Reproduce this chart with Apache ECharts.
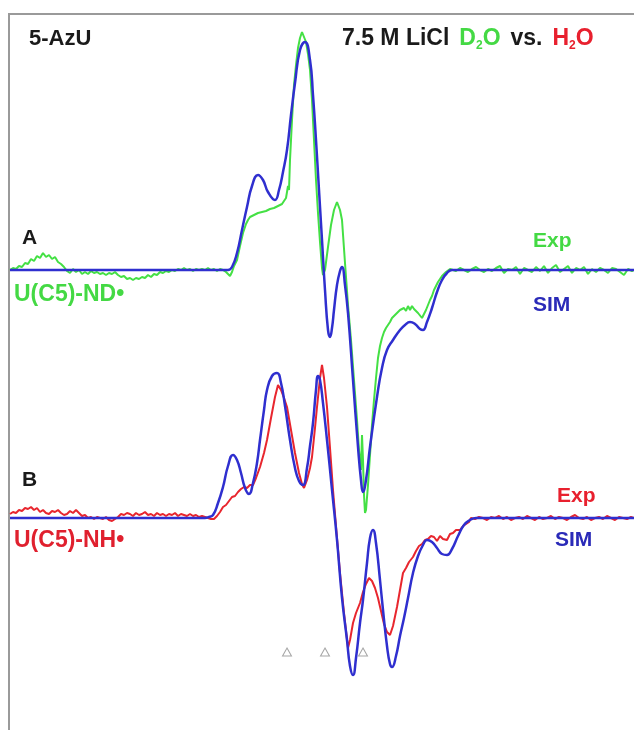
<!DOCTYPE html>
<html>
<head>
<meta charset="utf-8">
<script src="https://cdn.jsdelivr.net/npm/echarts@6/dist/echarts.min.js"></script>
<style>
  html, body { margin: 0; padding: 0; background: #fff; }
  #chart { width: 634px; height: 730px; }
</style>
</head>
<body>
<div id="chart"></div>
<script>
// EPR first-derivative spectra of the 5-AzU radical in 7.5 M LiCl glass.
// x: field position (arb. units), y: signal amplitude (arb. units, relative to each trace's baseline).

// A: U(C5)-ND• in D2O, experimental
const expA = [
  [10,0],[13,2],[16,1],[19,4],[22,3],[25,7],[28,6],[31,11],[34,9],[37,14],[40,12],[43,17],[46,13],[49,15],[52,11],[55,13],[58,8],[61,6],[64,3],[67,-1],[70,-3],[73,1],[76,-2],[79,0],[82,-4],[85,-2],[88,-4],[91,-1],[94,-3],[97,-2],[100,-4],[103,-3],[106,-5],[109,-3],[112,-4],[115,-2],[118,-5],[121,-7],[124,-6],[127,-9],[130,-8],[133,-10],[136,-8],[139,-9],[142,-7],[145,-8],[148,-5],[151,-7],[154,-4],[157,-5],[160,-2],[163,-3],[166,-1],[169,-2],[172,0],[175,-1],[178,1],[181,0],[184,2],[187,0],[190,1],[193,-1],[196,1],[199,0],[202,1],[205,0],[208,2],[211,0],[214,1],[217,-1],[220,1],[223,0],[226,-2],[228,-4],[230,-6],[232,-2],[234,4],[237,10],[240,24],[243,37],[246,46],[248,50],[250,53],[252,51],[254,55],[256,53],[258,57],[260,55],[262,58],[264,56],[266,59],[268,57],[270,61],[272,59],[274,62],[276,60],[278,64],[280,62],[282,66],[284,68],[286,72],[287,78],[288,84],[289,80],[290,110],[292,150],[294,185],[296,205],[298,222],[300,232],[302,238],[304,236],[306,228],[308,216],[310,200],[312,170],[314,130],[316,90],[318,57],[320,28],[322,2],[323,-5],[325,0],[328,23],[331,45],[334,60],[337,68],[340,60],[342,50],[345,7],[348,-35],[351,-70],[354,-110],[357,-150],[359,-180],[361,-200],[362,-165],[363,-190],[364,-225],[365,-243],[366,-240],[368,-215],[370,-185],[372,-155],[374,-130],[376,-108],[378,-88],[380,-76],[382,-68],[384,-62],[386,-58],[388,-55],[390,-52],[392,-48],[394,-50],[396,-44],[398,-46],[400,-40],[402,-42],[404,-38],[406,-41],[408,-36],[410,-40],[412,-36],[414,-39],[416,-40],[418,-43],[420,-45],[422,-48],[424,-44],[426,-40],[428,-35],[430,-30],[432,-26],[434,-20],[436,-16],[438,-12],[440,-9],[442,-6],[444,-4],[446,-2],[448,0],[450,1],
  [452,1],[456,-1],[460,2],[464,0],[468,-2],[472,1],[476,3],[480,0],[484,-2],[488,1],[492,-1],[496,2],[500,4],[504,-3],[508,1],[512,0],[516,3],[520,-4],[524,2],[528,0],[532,-2],[536,3],[540,-1],[544,4],[548,-3],[552,2],[556,5],[560,-2],[564,1],[568,4],[572,-3],[576,2],[580,0],[584,3],[588,-4],[592,1],[596,-2],[600,2],[604,0],[608,-3],[612,2],[616,1],[620,-2],[624,-5],[628,1],[632,-1],[634,0]
];

// A: simulation
const simA = [
  [10,0],[200,0],[224,0],[228,0],[232,3],[237,17],[242,40],[247,63],[252,84],[258,95],[263,90],[268,78],[275,70],[279,80],[283,98],[287,120],[291,155],[295,187],[300,220],[305,228],[310,210],[313,175],[316,130],[319,80],[322,30],[325,-20],[328,-60],[330,-67],[332,-58],[334,-40],[337,-15],[340,-1],[342,3],[345,-15],[348,-43],[353,-110],[358,-177],[361,-210],[363,-222],[366,-210],[370,-177],[377,-127],[382,-98],[387,-80],[393,-70],[400,-60],[405,-55],[410,-52],[415,-54],[420,-59],[423,-60],[427,-52],[432,-38],[437,-22],[442,-10],[447,-3],[452,0],[460,0],[634,0]
];

// B: U(C5)-NH• in H2O, experimental
const expB = [
  [10,4],[13,6],[16,5],[19,8],[22,7],[25,10],[28,9],[31,11],[34,8],[37,10],[40,6],[43,8],[46,5],[49,4],[52,7],[55,6],[58,8],[61,5],[64,3],[67,4],[70,7],[73,5],[76,8],[79,5],[82,2],[85,3],[88,0],[91,1],[94,-1],[97,1],[100,0],[103,-1],[106,1],[109,-2],[112,-3],[115,-1],[118,1],[121,4],[124,3],[127,5],[130,4],[133,2],[136,5],[139,3],[142,4],[145,6],[148,3],[151,4],[154,2],[157,5],[160,3],[163,4],[166,2],[169,4],[172,3],[175,5],[178,2],[181,4],[184,3],[187,2],[190,4],[193,2],[196,3],[199,1],[202,2],[205,1],[208,0],[211,-1],[214,-1],[217,2],[220,6],[223,11],[226,13],[229,17],[232,21],[235,22],[238,26],[241,29],[244,31],[247,30],[250,33],[253,33],[256,40],[260,51],[264,65],[267,78],[271,100],[275,121],[278,133],[281,128],[284,120],[287,111],[291,88],[295,65],[299,45],[302,34],[304,30],[307,38],[310,50],[312,61],[315,90],[317,111],[320,140],[322,153],[324,140],[327,111],[330,70],[333,28],[337,-20],[340,-55],[344,-95],[348,-130],[350,-122],[353,-105],[356,-95],[360,-85],[363,-74],[366,-66],[369,-60],[372,-63],[375,-70],[378,-80],[381,-93],[384,-106],[387,-114],[390,-117],[393,-108],[397,-89],[400,-72],[403,-55],[406,-50],[409,-44],[413,-39],[416,-33],[419,-28],[422,-26],[425,-22],[428,-21],[431,-18],[434,-19],[437,-23],[440,-18],[443,-21],[447,-22],[450,-16],[453,-15],[456,-12],[460,-12],[463,-8],[466,-6],[469,-4],
  [471,0],[475,-1],[479,1],[483,0],[487,-2],[491,1],[495,0],[499,2],[503,-1],[507,1],[511,-2],[515,0],[519,1],[523,-1],[527,2],[531,0],[535,-2],[539,1],[543,-1],[547,0],[551,2],[555,-1],[559,1],[563,0],[567,-2],[571,1],[575,3],[579,0],[583,-1],[587,1],[591,-2],[595,0],[599,1],[603,-1],[607,2],[611,0],[615,-2],[619,1],[623,0],[627,-1],[631,1],[634,0]
];

// B: simulation
const simB = [
  [10,0],[195,0],[205,0],[209,1],[213,3],[218,15],[223,31],[228,52],[233,63],[237,58],[241,45],[245,30],[249,24],[253,35],[257,55],[260,78],[264,108],[267,128],[272,142],[277,145],[281,135],[285,112],[290,78],[295,50],[299,37],[303,33],[307,50],[310,72],[313,95],[316,128],[318,142],[320,138],[323,115],[327,78],[332,28],[337,-22],[342,-80],[347,-122],[350,-148],[353,-157],[356,-140],[360,-105],[363,-82],[367,-45],[370,-20],[373,-12],[376,-25],[380,-62],[383,-92],[387,-128],[390,-146],[392,-149],[396,-138],[400,-118],[404,-100],[408,-80],[413,-55],[418,-38],[423,-27],[427,-22],[432,-24],[437,-30],[442,-36],[447,-37],[452,-31],[458,-18],[464,-7],[470,-2],[476,0],[484,0],[634,0]
];

// vertical stacking of the two spectra
const offsetA = 0;
const offsetB = -248;

// field positions flagged with triangles under trace B
const markerFields = [287, 325, 363];
const markerLevel = -382;

const shift = (arr, off) => arr.map(p => [p[0], p[1] + off]);

const GREEN = '#44e044';
const BLUE = '#2f2fcf';
const RED = '#e8262e';
const FONT = '"Liberation Sans", Arial, sans-serif';

const chart = echarts.init(document.getElementById('chart'), null, { renderer: 'canvas' });

const lineSeries = (data, color, width, smooth, z) => ({
  type: 'line',
  data: data,
  showSymbol: false,
  smooth: smooth,
  silent: true,
  z: z,
  lineStyle: { color: color, width: width },
  animation: false
});

const txt = (text, x, y, color, size) => ({
  type: 'text',
  x: x, y: y,
  style: {
    text: text,
    fill: color,
    font: 'bold ' + size + 'px ' + FONT,
    verticalAlign: 'middle',
    align: 'left'
  }
});

const tok = (color, size, extra) => Object.assign({
  fill: color, color: color, fontSize: size, fontWeight: 'bold', fontFamily: FONT, lineHeight: 26
}, extra || {});

chart.setOption({
  animation: false,
  backgroundColor: '#ffffff',
  grid: { left: 9, top: 14, right: 0, bottom: 0, containLabel: false },
  xAxis: { type: 'value', min: 9, max: 634, show: false },
  yAxis: { type: 'value', min: -460, max: 256, show: false },
  series: [
    lineSeries(shift(expA, offsetA), GREEN, 2, false, 2),
    lineSeries(shift(simA, offsetA), BLUE, 2.5, 0.5, 3),
    lineSeries(shift(expB, offsetB), RED, 2, false, 2),
    lineSeries(shift(simB, offsetB), BLUE, 2.5, 0.5, 3),
    {
      type: 'scatter',
      data: markerFields.map(f => [f, markerLevel]),
      symbol: 'triangle',
      symbolSize: [9, 8],
      silent: true,
      itemStyle: { color: '#ffffff', borderColor: '#8f8f8f', borderWidth: 1 },
      z: 1
    }
  ],
  graphic: [
    // frame: top and left edges
    {
      type: 'polyline',
      shape: { points: [[9, 731], [9, 14], [635, 14]] },
      style: { stroke: '#9a9a9a', lineWidth: 2, fill: null },
      silent: true
    },
    txt('5-AzU', 29, 39, '#1a1a1a', 22),
    {
      type: 'text',
      x: 342, y: 39,
      style: {
        text: '{k|7.5 M LiCl}{gd|D}{gs|2}{g|O}{v|vs.}{rh|H}{rs|2}{r|O}',
        verticalAlign: 'middle',
        align: 'left',
        rich: {
          k:  tok('#1a1a1a', 23),
          v:  tok('#1a1a1a', 23, { padding: [0, 0, 0, 10] }),
          gd: tok('#44d944', 23, { padding: [0, 0, 0, 10] }),
          g:  tok('#44d944', 23),
          rh: tok('#e8202e', 23, { padding: [0, 0, 0, 10] }),
          r:  tok('#e8202e', 23),
          gs: tok('#44d944', 12, { lineHeight: 12, verticalAlign: 'bottom' }),
          rs: tok('#e8202e', 12, { lineHeight: 12, verticalAlign: 'bottom' })
        }
      }
    },
    txt('A', 22, 238, '#1a1a1a', 21),
    txt('B', 22, 480, '#1a1a1a', 21),
    txt('U(C5)-ND\u2022', 14, 295, '#44d944', 23),
    txt('U(C5)-NH\u2022', 14, 541, '#e0202e', 23),
    txt('Exp', 533, 241, '#44d944', 21),
    txt('SIM', 533, 305, '#2a2ab8', 21),
    txt('Exp', 557, 496, '#e8202e', 21),
    txt('SIM', 555, 540, '#2a2ab8', 21)
  ]
});
</script>
</body>
</html>
